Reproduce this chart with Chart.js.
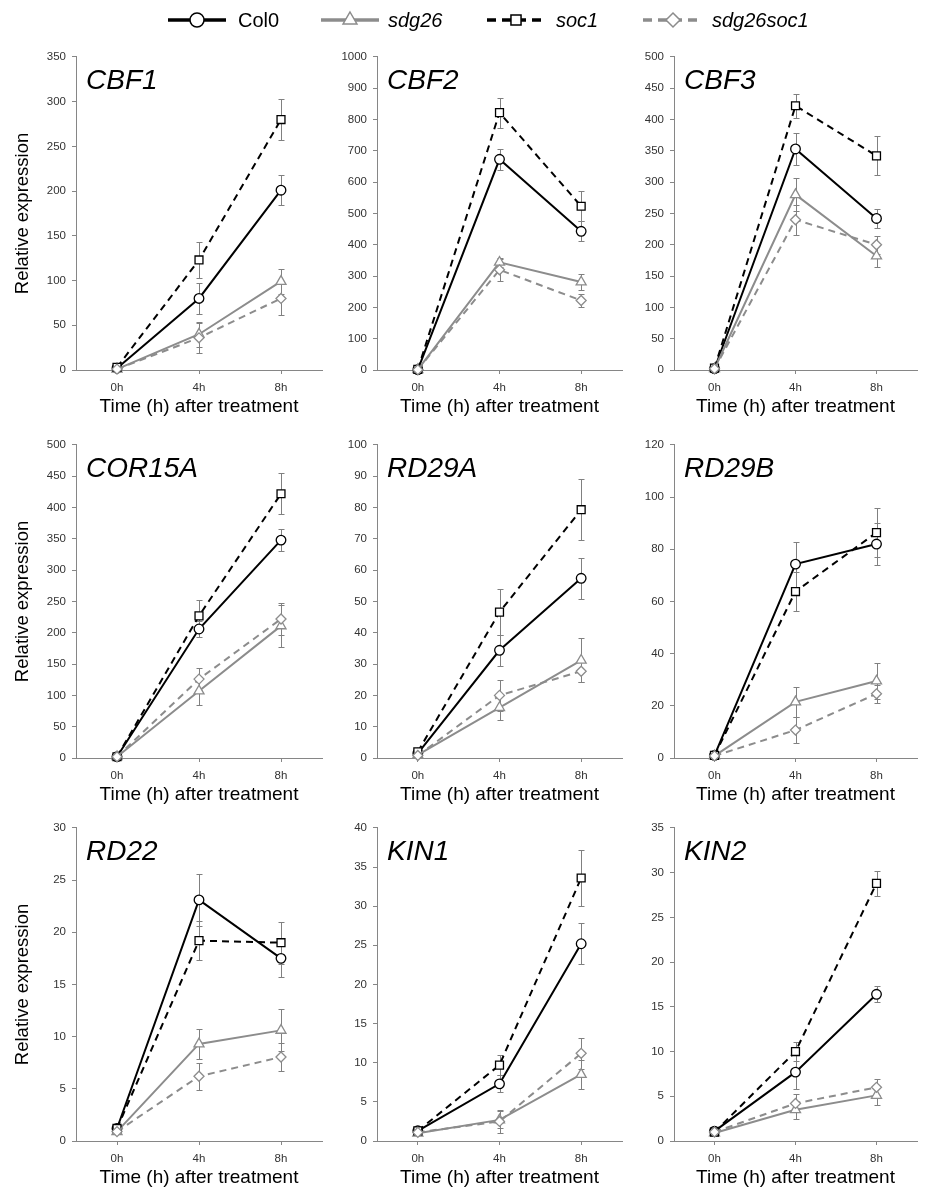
<!DOCTYPE html>
<html>
<head>
<meta charset="utf-8">
<script src="https://cdn.jsdelivr.net/npm/chart.js@4.4.0/dist/chart.umd.min.js"></script>
<style>
  body { margin: 0; background: #fff; }
  #page { position: relative; width: 937px; height: 1187px; overflow: hidden; }
  canvas { position: absolute; }
</style>
</head>
<body>
<div id="page">
  <canvas id="legend" width="937" height="42" style="left:0;top:0"></canvas>
</div>
<script>
// data
const timePoints = ['0h', '4h', '8h'];
const genes = ['CBF1', 'CBF2', 'CBF3', 'COR15A', 'RD29A', 'RD29B', 'RD22', 'KIN1', 'KIN2'];
const yMax = [350, 1000, 500, 500, 100, 120, 30, 40, 35];
const yStep = [50, 100, 50, 50, 10, 20, 5, 5, 5];

const col0Mean = [[2, 80, 201], [1, 673, 443], [2, 353, 242], [2, 206, 348], [1.5, 34.4, 57.4], [1, 74.3, 82], [1.2, 23.1, 17.5], [1.3, 7.3, 25.2], [1.1, 7.7, 16.4]];
const col0Err = [[0, 17, 17], [0, 33, 32], [0, 25, 15], [0, 12, 18], [0, 5, 6.5], [0, 8.6, 8], [0, 2.5, 1.8], [0, 1.1, 2.6], [0, 1.9, 0.9]];
const sdg26Mean = [[1, 40, 99], [1, 344, 281], [2, 280, 182], [2, 107, 211], [1, 16.1, 31.2], [0.8, 21.5, 29.5], [0.9, 9.3, 10.6], [1, 2.7, 8.5], [0.9, 3.5, 5.1]];
const sdg26Err = [[0, 14, 14], [0, 15, 27], [0, 26, 17], [0, 23, 34], [0, 4, 7], [0, 5.7, 7], [0, 1.4, 2], [0, 1.1, 1.9], [0, 1, 1.1]];
const soc1Mean = [[3, 123, 280], [2, 822, 523], [3, 422, 342], [2, 227, 422], [2, 46.6, 79.3], [1, 63.8, 86.4], [1.2, 19.2, 19], [1.3, 9.7, 33.6], [1, 10, 28.8]];
const soc1Err = [[0, 20, 23], [0, 48, 48], [0, 19, 31], [0, 25, 33], [0, 7.3, 9.8], [0, 7.3, 9.5], [0, 1.9, 2], [0, 1.3, 3.6], [0, 1.1, 1.4]];
const sdg26soc1Mean = [[1, 36, 80], [1, 320, 222], [2, 240, 200], [2, 126, 222], [0.8, 20, 27.7], [0.8, 10.7, 24.6], [0.9, 6.2, 8.05], [1.1, 2.5, 11.2], [1, 4.2, 6]];
const sdg26soc1Err = [[0, 17, 18], [0, 35, 22], [0, 24, 14], [0, 18, 25], [0, 5, 3.5], [0, 5, 3.5], [0, 1.3, 1.35], [0, 1.5, 2], [0, 1, 0.9]];

const FONT = '"Liberation Sans", Arial, sans-serif';
const BLACK = '#000000';
const GREY = '#8c8c8c';
const AXIS = '#868686';

Chart.defaults.font.family = FONT;

const series = [
  { label: 'Col0', mean: col0Mean, err: col0Err, color: BLACK, dash: [], shape: 'circle', radius: 4.8, order: 3 },
  { label: 'sdg26', mean: sdg26Mean, err: sdg26Err, color: GREY, dash: [], shape: 'triangle', radius: 5.8, order: 2 },
  { label: 'soc1', mean: soc1Mean, err: soc1Err, color: BLACK, dash: [7, 5], shape: 'rect', radius: 5.6, order: 1 },
  { label: 'sdg26soc1', mean: sdg26soc1Mean, err: sdg26soc1Err, color: GREY, dash: [7, 5], shape: 'rectRot', radius: 5, order: 0 }
];

// whiskers go under the lines and markers
const errorBars = {
  id: 'errorBars',
  beforeDatasetsDraw(chart) {
    const ctx = chart.ctx;
    const y = chart.scales.y;
    ctx.save();
    ctx.strokeStyle = '#808080';
    ctx.lineWidth = 1;
    chart.data.datasets.forEach((ds, i) => {
      const meta = chart.getDatasetMeta(i);
      meta.data.forEach((pt, j) => {
        const e = ds.errors[j];
        if (!e) return;
        const top = Math.round(y.getPixelForValue(ds.data[j] + e)) + 0.5;
        const bot = Math.round(y.getPixelForValue(ds.data[j] - e)) + 0.5;
        const x = Math.round(pt.x) + 0.5;
        ctx.beginPath();
        ctx.moveTo(x, top); ctx.lineTo(x, bot);
        ctx.moveTo(x - 3, top); ctx.lineTo(x + 3, top);
        ctx.moveTo(x - 3, bot); ctx.lineTo(x + 3, bot);
        ctx.stroke();
      });
    });
    ctx.restore();
  }
};

const geneLabel = {
  id: 'geneLabel',
  afterDraw(chart, args, opts) {
    const { ctx, chartArea } = chart;
    ctx.save();
    ctx.font = 'italic 28px ' + FONT;
    ctx.fillStyle = '#000';
    ctx.textBaseline = 'alphabetic';
    ctx.fillText(opts.text, chartArea.left + 10, chartArea.top + 32);
    ctx.restore();
  }
};

const areaLeft = [76, 377, 674];
const areaRight = [322, 622, 917];
const areaTop = [56, 444, 827];
const areaH = 314;
const page = document.getElementById('page');

genes.forEach((gene, g) => {
  const row = Math.floor(g / 3), col = g % 3;
  const yW = col === 0 ? 76 : 48;
  const padTop = 12, padRight = 10, xH = 48;
  const canvas = document.createElement('canvas');
  canvas.width = yW + (areaRight[col] - areaLeft[col]) + padRight;
  canvas.height = padTop + areaH + xH;
  canvas.style.left = (areaLeft[col] - yW) + 'px';
  canvas.style.top = (areaTop[row] - padTop) + 'px';
  page.appendChild(canvas);

  new Chart(canvas, {
    type: 'line',
    data: {
      labels: timePoints,
      datasets: series.map(s => ({
        label: s.label,
        data: s.mean[g],
        errors: s.err[g],
        borderColor: s.color,
        borderWidth: 2,
        borderDash: s.dash,
        pointStyle: s.shape,
        pointRadius: s.radius,
        pointBackgroundColor: '#ffffff',
        pointBorderColor: s.color,
        pointBorderWidth: 1.3,
        tension: 0,
        clip: false,
        order: s.order
      }))
    },
    options: {
      responsive: false,
      animation: false,
      events: [],
      layout: { padding: { top: padTop, right: padRight, left: 0, bottom: 0 } },
      plugins: {
        legend: { display: false },
        tooltip: { enabled: false },
        geneLabel: { text: gene }
      },
      scales: {
        x: {
          offset: true,
          grid: { drawOnChartArea: false, tickLength: 4, color: AXIS, offset: false },
          border: { color: AXIS, width: 1 },
          ticks: { color: '#333', font: { size: 11.5 }, padding: 7, maxRotation: 0 },
          title: {
            display: true, text: 'Time (h) after treatment', color: '#000',
            font: { size: 19 }, padding: { top: 0, bottom: 0 }
          },
          afterFit: s => { s.height = xH; }
        },
        y: {
          min: 0,
          max: yMax[g],
          grid: { drawOnChartArea: false, tickLength: 4, color: AXIS },
          border: { color: AXIS, width: 1 },
          ticks: {
            stepSize: yStep[g], color: '#333', font: { size: 11.5 }, padding: 6,
            callback: v => String(v)
          },
          title: {
            display: col === 0, text: 'Relative expression', color: '#000',
            font: { size: 18.5 }, padding: { top: 12, bottom: 0 }
          },
          afterFit: s => { s.width = yW; }
        }
      }
    },
    plugins: [errorBars, geneLabel]
  });
});

// shared legend across the top
function drawShape(ctx, shape, x, y, r) {
  ctx.beginPath();
  if (shape === 'circle') {
    ctx.arc(x, y, r, 0, Math.PI * 2);
  } else if (shape === 'triangle') {
    ctx.moveTo(x, y - r);
    ctx.lineTo(x + r * 0.866, y + r * 0.5);
    ctx.lineTo(x - r * 0.866, y + r * 0.5);
    ctx.closePath();
  } else if (shape === 'rect') {
    ctx.rect(x - r * 0.72, y - r * 0.72, r * 1.44, r * 1.44);
  } else {
    ctx.moveTo(x, y - r); ctx.lineTo(x + r, y); ctx.lineTo(x, y + r); ctx.lineTo(x - r, y);
    ctx.closePath();
  }
  ctx.fill();
  ctx.stroke();
}

const lg = document.getElementById('legend').getContext('2d');
const legendPos = [[168, 226, 238], [321, 379, 388], [487, 545, 556], [643, 703, 712]];
series.forEach((s, i) => {
  const [x1, x2, tx] = legendPos[i];
  const yc = 20;
  lg.save();
  lg.strokeStyle = s.color;
  lg.lineWidth = 3.5;
  lg.setLineDash(s.dash.length ? [9, 6] : []);
  lg.beginPath();
  lg.moveTo(x1, yc); lg.lineTo(x2, yc);
  lg.stroke();
  lg.setLineDash([]);
  lg.fillStyle = '#fff';
  lg.lineWidth = 1.5;
  drawShape(lg, s.shape, (x1 + x2) / 2, yc, s.shape === 'triangle' ? 8 : 7);
  lg.fillStyle = '#000';
  lg.font = (i === 0 ? '' : 'italic ') + '20px ' + FONT;
  lg.textBaseline = 'middle';
  lg.fillText(s.label, tx, yc + 1);
  lg.restore();
});
</script>
</body>
</html>
